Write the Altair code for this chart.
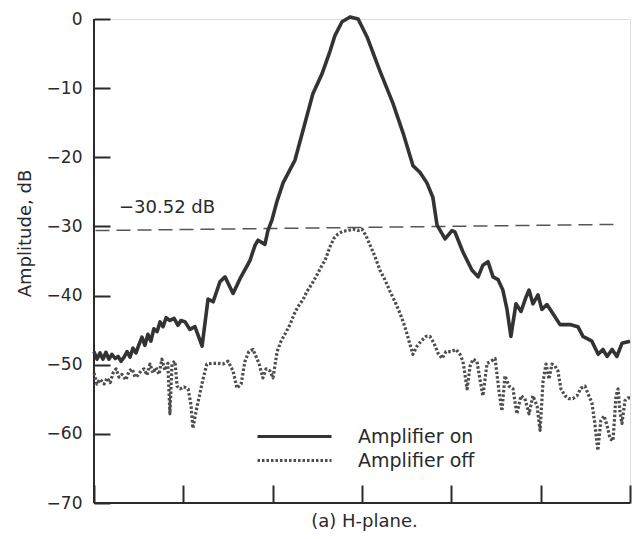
import altair as alt
import pandas as pd

# Amplifier on (solid)
on_angle = [-90.0, -89.0, -88.0, -87.0, -86.0, -85.0, -84.0, -82.9, -81.9, -80.9, -79.9, -78.9,
            -77.9, -76.9, -75.9, -74.9, -73.9, -72.9, -71.9, -70.9, -69.9, -68.8, -67.8, -66.8,
            -65.8, -64.5, -63.1, -61.8, -60.8, -59.4, -57.8, -56.1, -53.7, -51.7, -50.0, -47.7,
            -46.0, -43.3, -41.0, -37.6, -35.9, -34.9, -32.6, -31.6, -30.2, -28.5, -26.5, -22.5,
            -19.8, -16.5, -13.4, -10.7, -9.1, -6.7, -4.0, -1.3, 1.7, 6.0, 10.4, 13.8, 17.1, 19.5,
            21.8, 23.8, 25.2, 27.9, 30.2, 31.2, 33.9, 36.9, 39.0, 40.6, 42.3, 44.0, 45.7, 47.3,
            48.7, 50.0, 51.7, 53.4, 55.1, 56.1, 57.4, 59.1, 60.4, 62.1, 64.1, 66.5, 69.8, 72.5,
            74.2, 77.2, 79.3, 80.9, 82.3, 84.0, 85.6, 87.3, 90.0]
on_db = [-48.1, -49.2, -48.3, -49.2, -48.2, -49.2, -48.5, -49.1, -48.8, -49.5, -48.9, -48.1,
         -48.9, -47.6, -48.3, -47.1, -46.0, -47.2, -45.6, -46.6, -44.8, -45.2, -43.8, -44.5,
         -43.2, -43.6, -43.3, -44.3, -43.6, -43.8, -44.9, -44.5, -47.3, -40.5, -40.9, -38.0,
         -37.3, -39.7, -37.6, -34.9, -32.7, -32.0, -32.6, -30.6, -29.0, -26.3, -23.7, -20.4,
         -16.1, -10.8, -7.9, -4.6, -2.4, -0.4, 0.3, 0.0, -2.6, -7.5, -12.2, -16.5, -21.2, -22.2,
         -23.7, -25.8, -29.8, -31.8, -30.6, -30.8, -33.7, -36.3, -37.3, -35.6, -35.1, -37.3,
         -37.7, -39.2, -42.0, -45.9, -41.2, -42.3, -40.2, -39.2, -41.2, -39.9, -42.0, -41.3,
         -42.6, -44.2, -44.2, -44.5, -45.9, -46.6, -48.5, -47.8, -48.8, -47.8, -48.8, -46.9, -46.6]

# Amplifier off (dotted)
off_angle = [-90.0, -89.0, -88.0, -86.6, -85.6, -84.6, -83.6, -82.6, -81.6, -80.6, -79.3, -78.2,
             -77.2, -76.2, -75.2, -74.2, -73.2, -72.2, -71.2, -70.2, -69.2, -68.2, -67.2, -66.2,
             -65.2, -64.5, -63.8, -62.8, -62.1, -61.1, -59.8, -58.4, -57.4, -56.8, -55.7, -54.4,
             -53.4, -52.1, -50.4, -48.4, -46.7, -45.0, -43.3, -42.0, -40.6, -39.3, -38.0, -36.6,
             -35.6, -34.6, -33.3, -32.2, -30.9, -29.9, -28.5, -27.2, -25.9, -24.2, -22.8, -21.5,
             -19.8, -18.5, -16.8, -15.1, -13.8, -12.4, -10.8, -9.4, -8.1, -6.4, -4.7, -3.0, -1.3,
             0.0, 1.3, 2.7, 4.4, 6.0, 7.7, 9.4, 11.1, 12.8, 14.4, 15.8, 17.1, 18.5, 19.8, 21.5,
             22.8, 24.2, 25.5, 26.9, 28.2, 29.9, 31.6, 32.9, 33.9, 35.3, 36.3, 37.3, 38.6, 39.6,
             40.6, 42.0, 43.3, 44.7, 46.0, 47.0, 48.0, 49.4, 50.7, 52.0, 53.4, 54.7, 56.1, 57.4,
             58.8, 59.8, 60.8, 61.8, 62.8, 63.8, 64.8, 65.8, 66.8, 68.2, 69.5, 70.8, 72.2, 73.5,
             74.9, 75.9, 77.2, 78.2, 79.2, 80.2, 81.3, 82.3, 83.3, 84.3, 85.3, 86.0, 86.6, 87.3,
             88.3, 89.3, 90.0]
off_db = [-51.2, -52.8, -52.1, -52.8, -51.9, -52.6, -51.2, -50.6, -51.8, -51.4, -52.2, -50.9,
          -50.6, -51.8, -51.5, -50.9, -50.6, -51.5, -49.9, -51.2, -50.4, -51.4, -49.2, -50.8,
          -49.8, -57.1, -49.8, -49.5, -53.1, -53.5, -53.2, -53.5, -55.9, -59.2, -56.7, -54.1,
          -52.1, -49.9, -49.8, -49.8, -49.9, -49.5, -50.9, -53.4, -52.8, -49.5, -48.1, -47.8,
          -48.8, -49.8, -51.9, -50.6, -50.9, -51.9, -48.1, -46.6, -45.6, -44.2, -42.7, -41.6,
          -40.6, -39.4, -38.3, -37.0, -35.9, -34.9, -33.0, -31.7, -31.1, -30.7, -30.6, -30.4, -30.6,
          -30.4, -31.3, -32.7, -34.4, -36.3, -37.7, -39.4, -40.9, -42.6, -44.5, -46.6, -48.5, -47.3,
          -46.6, -45.9, -45.9, -46.9, -48.3, -49.1, -48.1, -48.1, -47.8, -48.5, -49.5, -53.5, -50.2,
          -49.2, -49.5, -52.1, -54.5, -49.8, -49.5, -49.1, -53.8, -56.7, -51.6, -53.1, -53.5, -57.1,
          -54.5, -54.9, -57.1, -54.5, -56.0, -59.5, -52.4, -49.9, -52.1, -49.9, -50.2, -50.9, -53.5,
          -54.5, -54.9, -54.9, -54.5, -53.4, -53.1, -54.2, -55.5, -58.5, -62.4, -58.1, -57.4, -58.8,
          -60.7, -61.0, -54.5, -53.5, -56.7, -58.5, -55.2, -54.8, -54.8]

# -30.52 dB reference line (as drawn, slightly tilted in the scan)
ref_angle = [-89.5, 86.5]
ref_db = [-30.6, -29.7]
ref_label = "\u221230.52 dB"

series = ["Amplifier on", "Amplifier off"]
y_ticks = [0, -10, -20, -30, -40, -50, -60, -70]
x_ticks = [-90, -60, -30, 0, 30, 60, 90]

on_df = pd.DataFrame({"angle": on_angle, "amp": on_db, "on": series[0],
                      "idx": list(range(len(on_angle)))})
off_df = pd.DataFrame({"angle": off_angle, "amp": off_db, "off": series[1],
                       "idx": list(range(len(off_angle)))})
ref_df = pd.DataFrame({"angle": ref_angle, "amp": ref_db})

FONT = "DejaVu Sans"
INK = "#2a2a2a"
ON_COLOR = "#333333"
OFF_COLOR = "#4d4d4d"

xscale = alt.Scale(domain=[-90, 90], nice=False, zero=False)
yscale = alt.Scale(domain=[-70, 0], nice=False, zero=False)

xaxis = alt.Axis(values=x_ticks, labels=False, tickSize=18, tickWidth=2, tickColor=INK,
                 domain=False, grid=False, offset=-18, title="(a) H-plane.",
                 titleX=270, titleY=36, titleBaseline="middle", titleAlign="center",
                 titleFontSize=18, titleFontWeight="normal", titleColor=INK, titleFont=FONT)
yaxis = alt.Axis(values=y_ticks, tickSize=16, tickWidth=2, tickColor=INK, domain=False,
                 grid=False, offset=-16, labelPadding=12, labelFontSize=17, labelColor=INK,
                 labelFont=FONT, title="Amplitude, dB", titleAngle=-90, titleX=-85, titleY=214,
                 titleBaseline="middle", titleAlign="center", titleFontSize=18,
                 titleFontWeight="normal", titleColor=INK, titleFont=FONT)

def X(field="angle"):
    return alt.X(f"{field}:Q", scale=xscale, axis=xaxis)

def Y(field="amp"):
    return alt.Y(f"{field}:Q", scale=yscale, axis=yaxis)

def make_legend(y, stroke):
    return alt.Legend(orient="none", legendX=162, legendY=y, title=None, symbolType="stroke",
                      symbolSize=5476, symbolStrokeWidth=3, symbolStrokeColor=stroke,
                      labelFontSize=19, labelFont=FONT, labelColor=INK, labelOffset=25,
                      padding=0)

on_curve = alt.Chart(on_df).mark_line(clip=False, strokeJoin="round", strokeWidth=3.6).encode(
    x=X(), y=Y(), order="idx:Q",
    color=alt.Color("on:N", scale=alt.Scale(domain=[series[0]], range=[ON_COLOR]),
                    legend=make_legend(379, ON_COLOR)),
)

off_curve = alt.Chart(off_df).mark_line(clip=False, strokeJoin="round", strokeWidth=3.2,
                                        color=OFF_COLOR).encode(
    x=X(), y=Y(), order="idx:Q",
    strokeDash=alt.StrokeDash("off:N", scale=alt.Scale(domain=[series[1]], range=[[2.5, 2]]),
                              legend=make_legend(403, OFF_COLOR)),
)

ref_line = alt.Chart(ref_df).mark_line(color="#555555", strokeWidth=1.5, strokeDash=[14, 7]).encode(
    x=X(), y=Y()
)

ref_text = alt.Chart(ref_df).transform_filter("datum.angle < 0").mark_text(
    align="left", baseline="middle", font=FONT, fontSize=18, color=INK
).encode(
    x=alt.XDatum(-81.6, type="quantitative", scale=xscale, axis=xaxis),
    y=alt.YDatum(-27.3, type="quantitative", scale=yscale, axis=yaxis),
    text=alt.value(ref_label),
)

y_domain = alt.Chart(ref_df).transform_filter("datum.angle < 0").mark_rule(
    color=INK, strokeWidth=2).encode(
    x=alt.XDatum(-90, type="quantitative", scale=xscale, axis=xaxis)
)
x_domain = alt.Chart(ref_df).transform_filter("datum.angle < 0").mark_rule(
    color=INK, strokeWidth=2).encode(
    y=alt.YDatum(-70, type="quantitative", scale=yscale, axis=yaxis)
)

chart = alt.layer(x_domain, y_domain, ref_line, off_curve, on_curve, ref_text).properties(
    width=536, height=484,
    autosize=alt.AutoSizeParams(type="none"),
    padding={"left": 86, "top": 11, "right": 2, "bottom": 28},
).configure_view(stroke=None).configure(background="white")

chart.save("out.html", embed_options={"renderer": "svg", "actions": False})
